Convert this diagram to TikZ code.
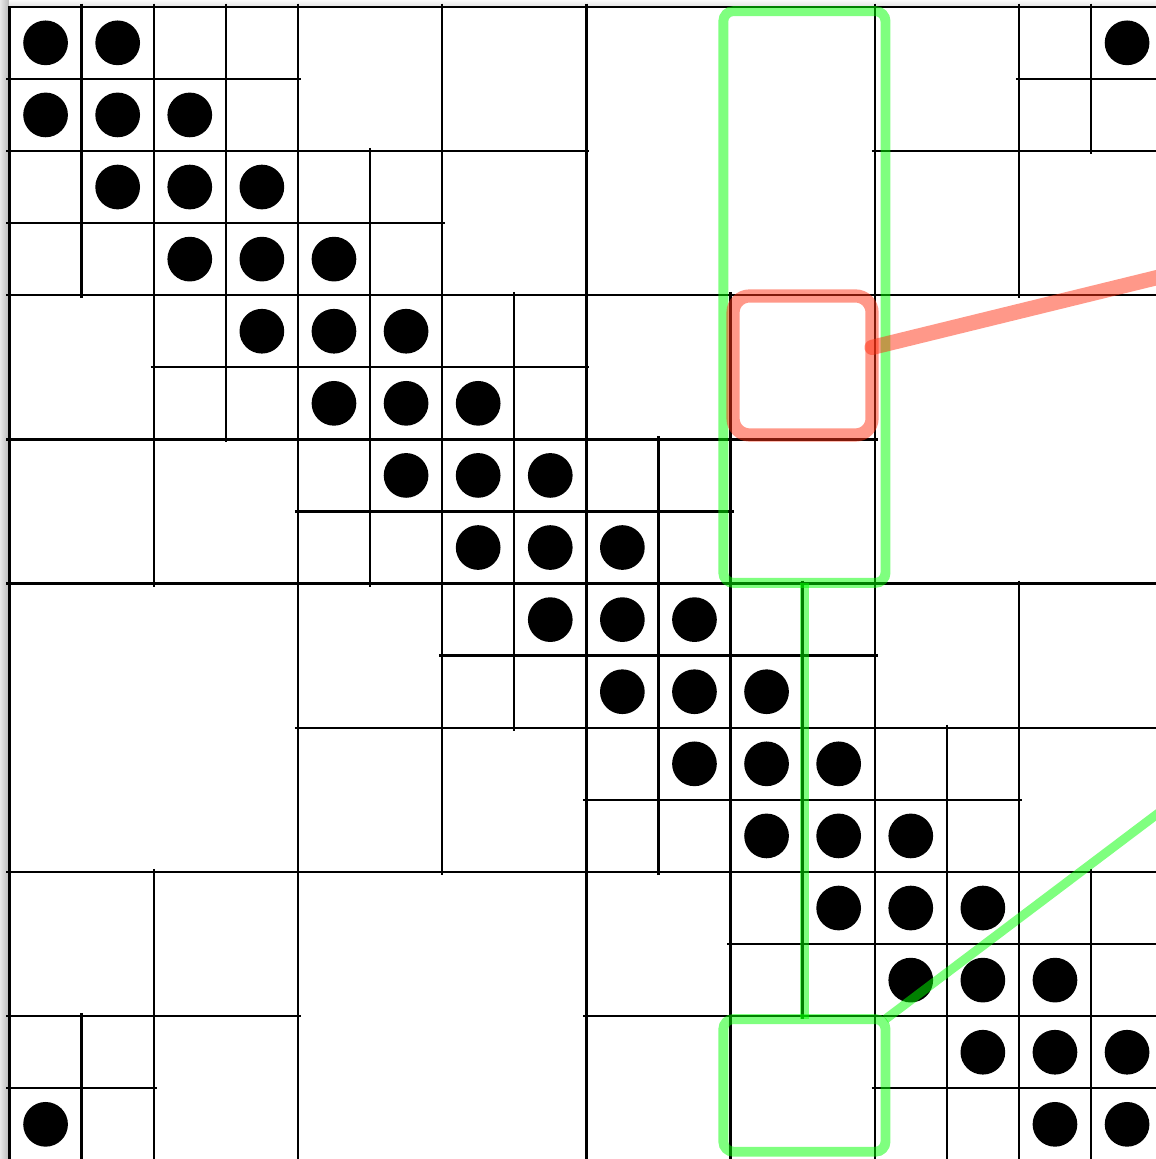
\documentclass[tikz,border=0pt]{standalone}
\usetikzlibrary{calc}
\definecolor{gov}{RGB}{0,255,0}
\definecolor{rov}{RGB}{255,50,20}
\begin{document}
\begin{tikzpicture}[x=1cm,y=-1cm,
  gridline/.style={line width=0.95pt, black, shorten <=-1.2pt, shorten >=-1.2pt},
  dot/.style={circle, fill=black, minimum size=0.62cm, inner sep=0pt},
  greenbox/.style={draw=gov, draw opacity=0.5, line width=3.9pt, rounded corners=4pt, inner sep=0pt, outer sep=0pt},
  redbox/.style={draw=rov, draw opacity=0.5, line width=5.2pt, rounded corners=6.5pt, inner sep=0pt, outer sep=0pt},
  greenline/.style={draw=gov, draw opacity=0.5, line width=3.6pt},
  redline/.style={draw=rov, draw opacity=0.5, line width=6pt, line cap=round}]
\useasboundingbox (-0.132,-0.094) rectangle (15.901,15.981);
\clip (-0.132,-0.094) rectangle (15.901,15.981);
\fill[white] (-0.132,-0.094) rectangle (15.901,15.981);
% window shadows
\shade[top color=gray!4, bottom color=gray!22] (-0.132,-0.094) rectangle (15.901,0);
\shade[left color=gray!18, right color=gray!55] (-0.132,-0.094) rectangle (-0.01,15.981);
% quadtree border
\draw[line width=0.95pt] (0,0) rectangle (16,16);
% quadtree subdivisions: each split node gets a cross
\foreach \x/\y/\s in {0/0/16,
  0/0/8, 8/0/8, 0/8/8, 8/8/8,
  0/0/4, 4/0/4, 0/4/4, 4/4/4, 12/0/4, 8/4/4, 4/8/4, 0/12/4, 8/8/4, 12/8/4, 8/12/4, 12/12/4,
  0/0/2, 2/0/2, 14/0/2, 0/2/2, 2/2/2, 4/2/2, 2/4/2, 4/4/2, 6/4/2, 4/6/2, 6/6/2, 8/6/2,
  6/8/2, 8/8/2, 10/8/2, 8/10/2, 10/10/2, 12/10/2, 10/12/2, 12/12/2, 14/12/2, 0/14/2, 12/14/2, 14/14/2}
{
  \draw[gridline] ({\x+\s/2},\y) -- ({\x+\s/2},{\y+\s});
  \draw[gridline] (\x,{\y+\s/2}) -- ({\x+\s},{\y+\s/2});
}
% points
\foreach \c/\r in {0/0,1/0,15/0, 0/1,1/1,2/1, 1/2,2/2,3/2, 2/3,3/3,4/3, 3/4,4/4,5/4,
  4/5,5/5,6/5, 5/6,6/6,7/6, 6/7,7/7,8/7, 7/8,8/8,9/8, 8/9,9/9,10/9,
  9/10,10/10,11/10, 10/11,11/11,12/11, 11/12,12/12,13/12, 12/13,13/13,14/13,
  13/14,14/14,15/14, 0/15,14/15,15/15}
{
  \node[dot] (d-\c-\r) at ({\c+0.5},{\r+0.5}) {};
}
% highlight boxes
\node[greenbox, minimum width=2.25cm, minimum height=7.93cm] (gtop) at (11.025,4.025) {};
\node[greenbox, minimum width=2.25cm, minimum height=1.84cm] (gbot) at (11.025,14.96) {};
\node[redbox, minimum width=1.928cm, minimum height=1.928cm] (rbox) at (10.999,4.975) {};
\coordinate (goff) at (17,10.38);
\coordinate (roff) at (17,3.49);
% connectors
\draw[greenline] (gtop.south) -- (gbot.north);
\draw[greenline] (gbot.north east) -- (goff);
\draw[redline] ($(rbox.north east)!0.37!(rbox.south east)$) -- (roff);
\end{tikzpicture}
\end{document}
